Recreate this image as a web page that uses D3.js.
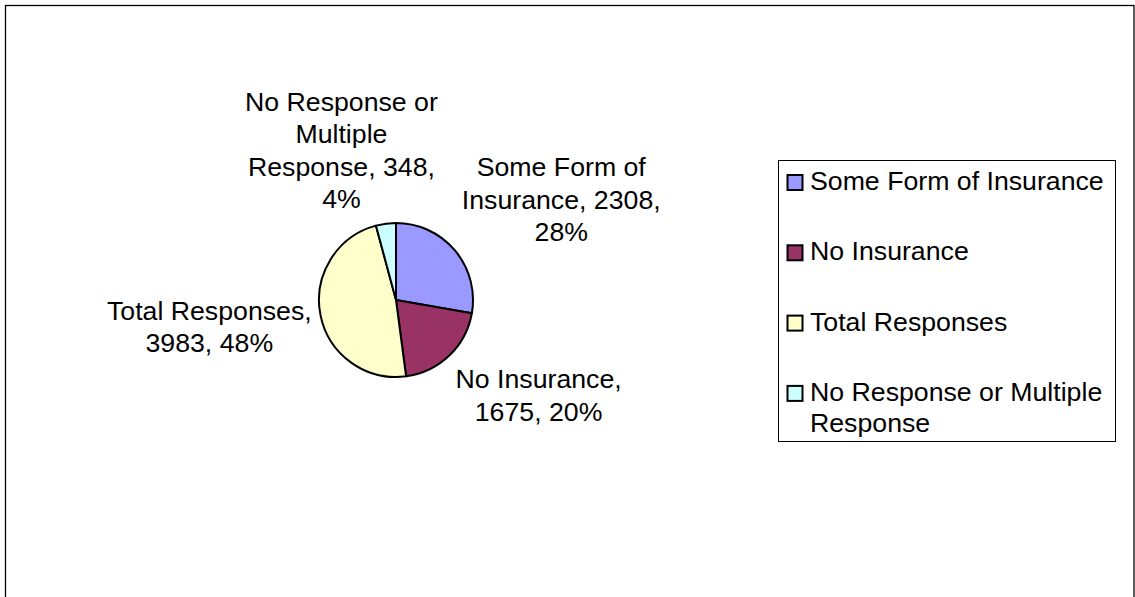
<!DOCTYPE html>
<html>
<head>
<meta charset="utf-8">
<script src="https://cdn.jsdelivr.net/npm/d3@7"></script>
<style>
  body { margin: 0; background: #fff; }
  text { font-family: Arial, "Liberation Sans", sans-serif; fill: #000; }
</style>
</head>
<body>
<script>
const width = 1135,
      height = 597;

// data
const categories = ["Some Form of Insurance", "No Insurance", "Total Responses", "No Response or Multiple Response"];
const values = [2308, 1675, 3983, 348];
const colors = ["#9999ff", "#993366", "#ffffcc", "#ccffff"];

const fontSize = 26.7,
      lineH = 32.5;

const cx = 396, cy = 300, r = 77;

var svg = d3.select("body").append("svg")
	.attr("width", width)
	.attr("height", height);

// chart area border
svg.append("rect")
	.attr("x", 5.5).attr("y", 5.5)
	.attr("width", 1128.5).attr("height", 620)
	.attr("fill", "#fff")
	.attr("stroke", "#000")
	.attr("stroke-width", 1.3);

var total = d3.sum(values);
var pie = d3.pie().sort(null).value(d => d)(values);
var arc = d3.arc().innerRadius(0).outerRadius(r);

var g = svg.append("g").attr("transform", "translate(" + cx + "," + cy + ")");

g.selectAll("path.slice")
	.data(pie)
	.enter().append("path")
	.attr("class", "slice")
	.attr("d", arc)
	.attr("fill", (d, i) => colors[i])
	.attr("stroke", "#000")
	.attr("stroke-width", 2)
	.attr("stroke-linejoin", "round");

// measuring helper
var meas = svg.append("text").style("font-size", fontSize + "px").attr("visibility", "hidden");
function textW(s) { meas.text(s); return meas.node().getComputedTextLength(); }

function wrap(s, maxW) {
	var words = s.split(" "), lines = [], cur = "";
	words.forEach(w => {
		var t = cur ? cur + " " + w : w;
		if (cur && textW(t) > maxW) { lines.push(cur); cur = w; }
		else cur = t;
	});
	if (cur) lines.push(cur);
	return lines;
}

// data labels, outside end: anchor on a circle, box hung off the anchor
var anchorR = 86, k = 1.45, minGap = 24;
var clamp = v => Math.max(-1, Math.min(1, v));
var boxes = [];
pie.forEach((d, i) => {
	var pct = Math.round(values[i] / total * 100);
	var lines = wrap(categories[i] + ", " + values[i] + ", " + pct + "%", 225);
	var w = d3.max(lines, l => textW(l));
	var h = lines.length * lineH;
	var a = (d.startAngle + d.endAngle) / 2;
	var dx = Math.sin(a), dy = -Math.cos(a);
	var b = {
		lines: lines, w: w, h: h,
		x: dx * anchorR + w / 2 * clamp(k * dx),
		y: dy * anchorR + h / 2 * clamp(k * dy)
	};
	// keep a gap from labels already placed
	boxes.forEach(o => {
		var vOver = Math.abs(b.y - o.y) < (b.h + o.h) / 2;
		var hGap = Math.abs(b.x - o.x) - (b.w + o.w) / 2;
		if (vOver && hGap < minGap) {
			b.x += (b.x < o.x ? -1 : 1) * (minGap - hGap);
		}
	});
	boxes.push(b);
});

boxes.forEach(b => {
	var t = g.append("text")
		.attr("text-anchor", "middle")
		.style("font-size", fontSize + "px");
	var top = b.y - b.h / 2;
	b.lines.forEach((l, j) => {
		t.append("tspan")
			.attr("x", b.x)
			.attr("y", top + 26 + j * lineH)
			.text(l);
	});
});

// legend
var legX = 778, legY = 160, legW = 337, legH = 281;
var leg = svg.append("g");
leg.append("rect")
	.attr("x", legX + 0.5).attr("y", legY + 0.5)
	.attr("width", legW).attr("height", legH)
	.attr("fill", "#fff")
	.attr("stroke", "#000")
	.attr("stroke-width", 1);

var baseY = legY + 30, step = 70.3;
categories.forEach((c, i) => {
	var by = baseY + i * step;
	leg.append("rect")
		.attr("x", legX + 9.5).attr("y", by - 15)
		.attr("width", 15).attr("height", 15)
		.attr("fill", colors[i])
		.attr("stroke", "#000")
		.attr("stroke-width", 2);
	var lines = wrap(c, 300);
	var t = leg.append("text").style("font-size", fontSize + "px");
	lines.forEach((l, j) => {
		t.append("tspan")
			.attr("x", legX + 32)
			.attr("y", by + j * 31)
			.text(l);
	});
});
meas.remove();
</script>
</body>
</html>
